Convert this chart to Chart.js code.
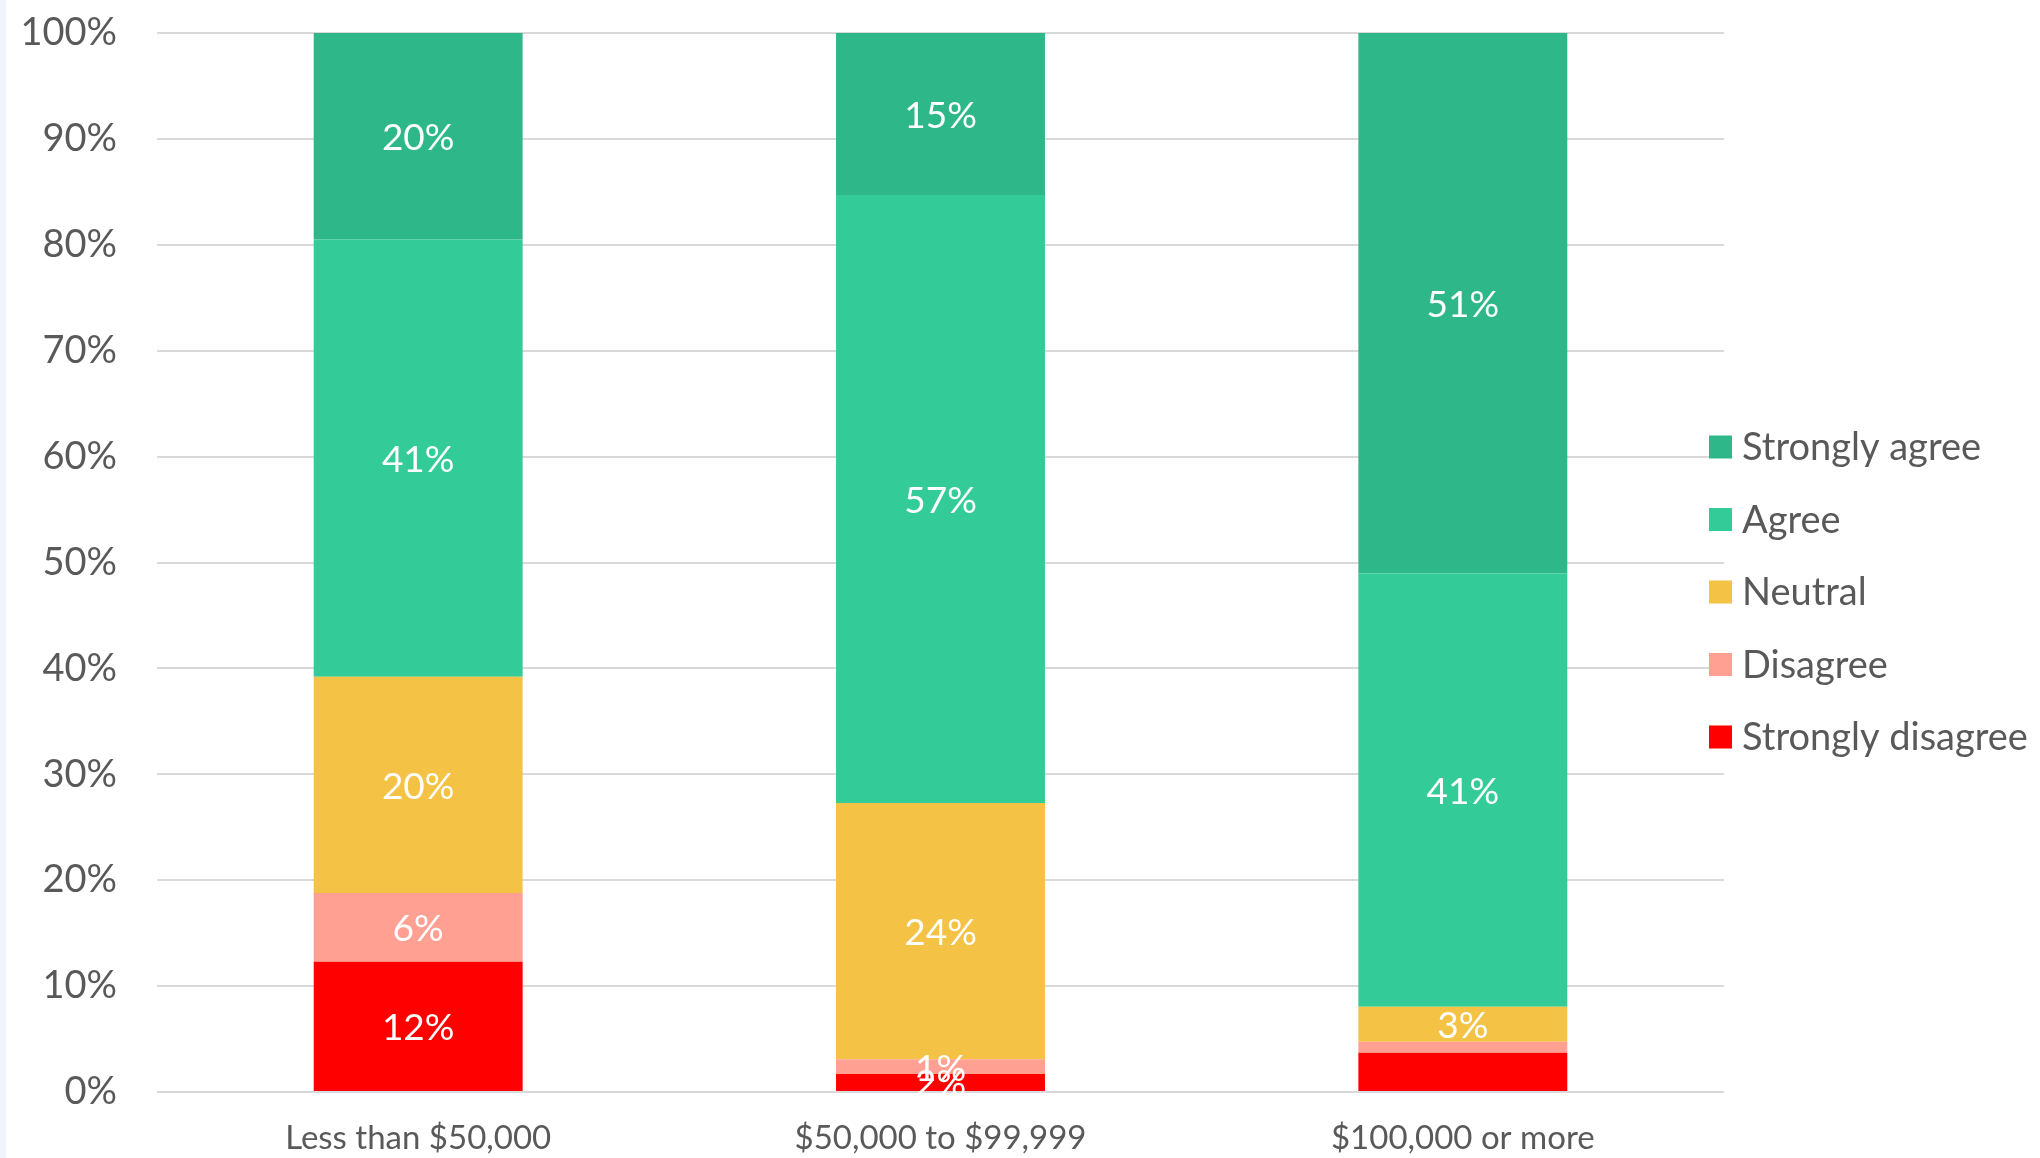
<!DOCTYPE html>
<html>
<head>
<meta charset="utf-8">
<script src="https://cdn.jsdelivr.net/npm/chart.js@4/dist/chart.umd.min.js"></script>
<style>
  html, body { margin: 0; padding: 0; background: #ffffff; }
  body { width: 2040px; height: 1158px; overflow: hidden; position: relative; }
  #strip { position: absolute; left: 0; top: 0; width: 6px; height: 1158px; background: #EDF4FE; }
  #wrap { position: absolute; left: 0; top: 0; width: 2040px; height: 1158px; }
</style>
</head>
<body>
<div id="wrap"><canvas id="c" width="2040" height="1158"></canvas></div>
<div id="strip"></div>
<script>
const categories = ['Less than $50,000', '$50,000 to $99,999', '$100,000 or more'];
const seriesNames = ['Strongly disagree', 'Disagree', 'Neutral', 'Agree', 'Strongly agree'];
const stronglyDisagree = [12.3, 1.7, 3.7];
const disagree = [6.5, 1.4, 1.05];
const neutral = [20.4, 24.2, 3.3];
const agree = [41.3, 57.4, 40.9];
const stronglyAgree = [19.5, 15.3, 51.05];
const stronglyDisagreeLabels = ['12%', '2%', ''];
const disagreeLabels = ['6%', '1%', ''];
const neutralLabels = ['20%', '24%', '3%'];
const agreeLabels = ['41%', '57%', '41%'];
const stronglyAgreeLabels = ['20%', '15%', '51%'];
const yTicks = [0, 10, 20, 30, 40, 50, 60, 70, 80, 90, 100];

const colors = ['#FF0000', '#FFA093', '#F4C244', '#33CC99', '#2EB88A'];
const values = [stronglyDisagree, disagree, neutral, agree, stronglyAgree];
const labelSets = [stronglyDisagreeLabels, disagreeLabels, neutralLabels, agreeLabels, stronglyAgreeLabels];

const FONT = 'Lato, "Open Sans", sans-serif';
const TEXT = '#595959';

const dataLabelPlugin = {
  id: 'dataLabels',
  afterDatasetsDraw(chart) {
    const ctx = chart.ctx;
    const area = chart.chartArea;
    ctx.save();
    ctx.beginPath();
    ctx.rect(area.left, area.top, area.right - area.left, area.bottom - area.top + 3);
    ctx.clip();
    ctx.fillStyle = '#ffffff';
    ctx.font = '37px ' + FONT;
    ctx.textAlign = 'center';
    ctx.textBaseline = 'middle';
    chart.data.datasets.forEach((ds, di) => {
      const meta = chart.getDatasetMeta(di);
      meta.data.forEach((el, i) => {
        const t = ds.valueLabels[i];
        if (!t) return;
        ctx.fillText(t, el.x, (el.y + el.base) / 2 + 2);
      });
    });
    ctx.restore();
  }
};

const legendPlugin = {
  id: 'customLegend',
  afterDraw(chart) {
    const ctx = chart.ctx;
    const ds = chart.data.datasets.slice().reverse();
    ctx.save();
    ctx.font = '38px ' + FONT;
    ctx.textBaseline = 'middle';
    ctx.textAlign = 'left';
    ds.forEach((d, k) => {
      const cy = 447 + k * 72.5;
      ctx.fillStyle = d.backgroundColor;
      ctx.fillRect(1709, cy - 11.5, 23, 23);
      ctx.fillStyle = TEXT;
      ctx.fillText(d.label, 1742, cy + 1);
    });
    ctx.restore();
  }
};

new Chart(document.getElementById('c'), {
  type: 'bar',
  data: {
    labels: categories,
    datasets: seriesNames.map((name, i) => ({
      label: name,
      data: values[i],
      valueLabels: labelSets[i],
      backgroundColor: colors[i],
      borderWidth: 0,
      barPercentage: 0.4,
      categoryPercentage: 1.0
    }))
  },
  options: {
    responsive: false,
    animation: false,
    devicePixelRatio: 1,
    layout: { padding: { top: 33, right: 316, bottom: 0, left: 0 } },
    plugins: {
      legend: { display: false },
      tooltip: { enabled: false },
      title: { display: false }
    },
    scales: {
      x: {
        stacked: true,
        grid: { display: false, drawTicks: false },
        border: { display: false },
        ticks: { color: TEXT, font: { family: FONT, size: 33 }, padding: 27, maxRotation: 0 },
        afterFit(scale) { scale.height = 66; scale.paddingLeft = 0; scale.paddingRight = 0; }
      },
      y: {
        stacked: true,
        min: 0,
        max: 100,
        afterBuildTicks(scale) { scale.ticks = yTicks.map(v => ({ value: v })); },
        grid: { color: '#D9D9D9', lineWidth: 2, drawTicks: false },
        border: { display: false },
        ticks: {
          color: TEXT,
          font: { family: FONT, size: 38 },
          padding: 40,
          callback: v => v + '%'
        },
        afterFit(scale) { scale.width = 157; scale.paddingTop = 0; scale.paddingBottom = 0; }
      }
    }
  },
  plugins: [dataLabelPlugin, legendPlugin]
});
</script>
</body>
</html>
